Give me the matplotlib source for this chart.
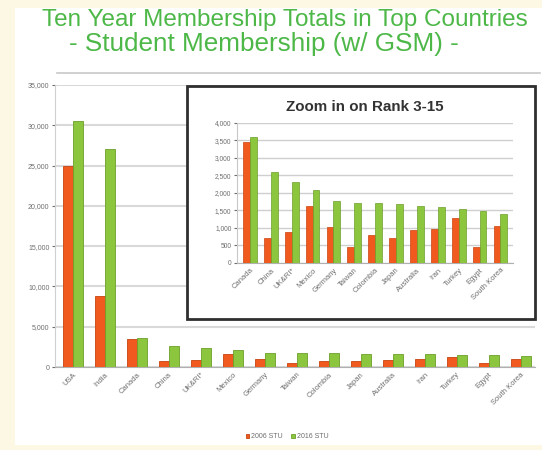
import matplotlib
matplotlib.use("Agg")
import matplotlib.pyplot as plt
from matplotlib.patches import Rectangle
from matplotlib.ticker import FuncFormatter
import numpy as np

countries = ["USA", "India", "Canada", "China", "UK&RI*", "Mexico", "Germany", "Taiwan",
             "Colombia", "Japan", "Australia", "Iran", "Turkey", "Egypt", "South Korea"]
stu_2006 = [25000, 8800, 3450, 700, 880, 1620, 1030, 440, 790, 700, 930, 950, 1280, 450, 1050]
stu_2016 = [30500, 27000, 3600, 2600, 2310, 2080, 1760, 1720, 1720, 1670, 1610, 1590, 1540, 1480, 1400]
series_labels = ["2006 STU", "2016 STU"]
main_title = ["Ten Year Membership Totals in Top Countries", "- Student Membership (w/ GSM) -"]
inset_title = "Zoom in on Rank 3-15"

W, H = 542, 450
ORANGE = "#f05a1e"
GREEN = "#8cc63e"
ORANGE_E = "#c8430f"
GREEN_E = "#6c9e2a"
TITLE_G = "#4db848"
CREAM = "#fdf8e4"
GRID = "#d9d9d9"
TXT = "#6e6e6e"

plt.rcParams['font.family'] = ['Liberation Sans', 'DejaVu Sans']

fig = plt.figure(figsize=(W / 100, H / 100), dpi=100)
fig.patch.set_facecolor(CREAM)

def fx(x):
    return x / W

def fy(y):
    return 1 - y / H

# white panel
fig.patches.append(Rectangle((fx(15), fy(445)), fx(527), (445 - 8) / H,
                             transform=fig.transFigure, facecolor="white",
                             edgecolor="none", zorder=-5))

fig.text(fx(285), fy(20), main_title[0], color=TITLE_G, fontsize=17.5,
         ha="center", va="center")
fig.text(fx(264), fy(44), main_title[1], color=TITLE_G, fontsize=18.8,
         ha="center", va="center")

# top faint line of the chart area
fig.add_artist(plt.Line2D([fx(57), fx(540)], [fy(73), fy(73)], transform=fig.transFigure,
                          color="#c8c8c8", lw=1.2, zorder=-1))

def thousands(v, p):
    return f"{int(v):,}"

# main axes
ax = fig.add_axes([fx(55), fy(367), fx(535 - 55), (367 - 85) / H], zorder=1)
ax.set_facecolor("none")
x = np.arange(len(countries))
bw = 0.31
ax.bar(x - bw / 2, stu_2006, bw, color=ORANGE, edgecolor=ORANGE_E, linewidth=0.6,
       label=series_labels[0], zorder=3)
ax.bar(x + bw / 2, stu_2016, bw, color=GREEN, edgecolor=GREEN_E, linewidth=0.6,
       label=series_labels[1], zorder=3)
ax.set_ylim(0, 35000)
ax.set_xlim(-0.55, 14.45)
ax.set_yticks(np.arange(0, 35001, 5000))
ax.yaxis.set_major_formatter(FuncFormatter(thousands))
ax.grid(axis="y", color=GRID, lw=1.5, zorder=0)
for s in ["top", "right"]:
    ax.spines[s].set_visible(False)
ax.spines["left"].set_color("#d0d0d0")
ax.spines["bottom"].set_color("#b0b0b0")
ax.tick_params(axis="y", labelsize=5, colors=TXT, length=2, pad=2)
ax.tick_params(axis="x", labelsize=5.5, colors=TXT, length=0, pad=3)
ax.set_xticks(x)
ax.set_xticklabels(countries, rotation=45, ha="right", rotation_mode="anchor")

leg = fig.legend(handles=ax.containers, labels=series_labels, loc="center",
                 bbox_to_anchor=(fx(287), fy(437)), ncol=2, frameon=False,
                 fontsize=5, handlelength=0.5, handleheight=0.5, columnspacing=1.2,
                 handletextpad=0.3)
for t in leg.get_texts():
    t.set_color(TXT)

# inset box
fig.patches.append(Rectangle((fx(187), fy(319)), fx(535 - 187), (319 - 86) / H,
                             transform=fig.transFigure, facecolor="white",
                             edgecolor="#2f2f2f", lw=2.0, zorder=5))
fig.text(fx(365), fy(107), inset_title, fontsize=10.9, fontweight="bold",
         color="#333333", ha="center", va="center", zorder=6)

ia = fig.add_axes([fx(237), fy(262.7), fx(513 - 237), (262.7 - 122.7) / H], zorder=7)
ia.set_facecolor("none")
xi = np.arange(len(countries) - 2)
bwi = 0.33
ia.bar(xi - bwi / 2, stu_2006[2:], bwi, color=ORANGE, edgecolor=ORANGE_E, linewidth=0.5, zorder=3)
ia.bar(xi + bwi / 2, stu_2016[2:], bwi, color=GREEN, edgecolor=GREEN_E, linewidth=0.5, zorder=3)
ia.set_ylim(0, 4000)
ia.set_xlim(-0.62, 12.6)
ia.set_yticks(np.arange(0, 4001, 500))
ia.yaxis.set_major_formatter(FuncFormatter(thousands))
ia.grid(axis="y", color="#cfcfcf", lw=1.0, zorder=0)
for s in ["top", "right"]:
    ia.spines[s].set_visible(False)
ia.spines["left"].set_color("#c8c8c8")
ia.spines["bottom"].set_color("#b0b0b0")
ia.tick_params(axis="y", labelsize=4.8, colors=TXT, length=2, pad=2)
ia.tick_params(axis="x", labelsize=5.5, colors=TXT, length=0, pad=3)
ia.set_xticks(xi)
ia.set_xticklabels(countries[2:], rotation=45, ha="right", rotation_mode="anchor")

fig.savefig("out.png", dpi=100, facecolor=fig.get_facecolor())
